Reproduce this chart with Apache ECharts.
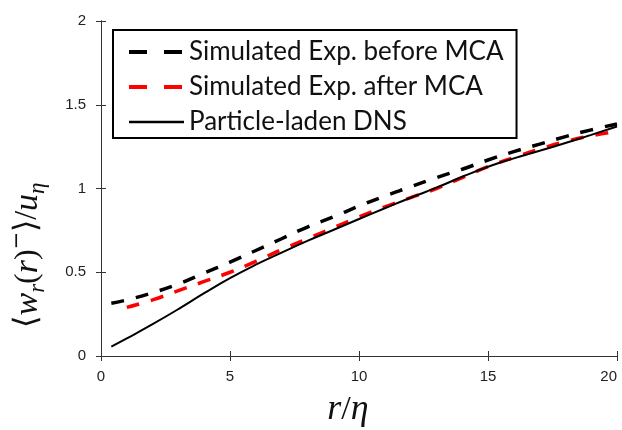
<!DOCTYPE html>
<html><head><meta charset="utf-8">
<script src="https://cdn.jsdelivr.net/npm/echarts@6/dist/echarts.min.js"></script>
<style>html,body{margin:0;padding:0;background:#fff}#c{width:622px;height:430px}</style>
</head><body><div id="c"></div>
<script>
const seriesNames = ['Simulated Exp. before MCA', 'Simulated Exp. after MCA', 'Particle-laden DNS'];
const xBefore = [0.4, 1, 2, 3, 4, 5, 6, 7, 8, 9, 10, 11, 12, 13, 14, 15, 16, 17, 18, 19, 20];
const yBefore = [0.315, 0.335, 0.378, 0.43, 0.495, 0.56, 0.63, 0.70, 0.77, 0.83, 0.895, 0.955, 1.01, 1.065, 1.115, 1.17, 1.22, 1.265, 1.31, 1.35, 1.385];
const xAfter = [1, 2, 3, 4, 5, 6, 7, 8, 9, 10, 11, 12, 13, 14, 15, 16, 17, 18, 19, 20];
const yAfter = [0.29, 0.335, 0.39, 0.445, 0.50, 0.565, 0.635, 0.70, 0.765, 0.83, 0.89, 0.945, 1.0, 1.065, 1.13, 1.185, 1.235, 1.28, 1.315, 1.34];
const xDNS = [0.4, 1, 2, 3, 4, 5, 6, 7, 8, 9, 10, 11, 12, 13, 14, 15, 16, 17, 18, 19, 20];
const yDNS = [0.056, 0.105, 0.19, 0.28, 0.375, 0.465, 0.545, 0.617, 0.687, 0.752, 0.818, 0.882, 0.945, 1.005, 1.07, 1.13, 1.18, 1.225, 1.272, 1.32, 1.37];
const xTicks = [0, 5, 10, 15, 20];
const yTicks = [0, 0.5, 1, 1.5, 2];
const xTitle = '{a|r}{n|/}{a|η}';
const yTitle = '{n|⟨}{a|w}{sub|r}{n|(}{a|r}{n|)}{sup|−}{n|⟩}{n|/}{a|u}{sub|η}';

const zip = (xs, ys) => xs.map((x, i) => [x, ys[i]]);
const chart = echarts.init(document.getElementById('c'), null, {renderer: 'canvas'});
const axisLine = {show: true, lineStyle: {color: '#333', width: 1}};
const tickStyle = {show: true, inside: true, length: 5, lineStyle: {color: '#333'}};
const labelStyle = {fontFamily: 'Liberation Sans', fontSize: 15, color: '#222'};
const mathRich = {
  a: {fontFamily: 'Liberation Serif', fontStyle: 'italic', fontSize: 36, fill: '#111', lineHeight: 44},
  n: {fontFamily: 'Liberation Serif', fontSize: 34, fill: '#111', lineHeight: 44},
  sub: {fontFamily: 'Liberation Serif', fontStyle: 'italic', fontSize: 24, fill: '#111', lineHeight: 26, verticalAlign: 'bottom'},
  sup: {fontFamily: 'DejaVu Sans', fontSize: 22, fill: '#111', lineHeight: 26, verticalAlign: 'top'}
};
const yRich = {
  a: {fontFamily: 'Liberation Serif', fontStyle: 'italic', fontSize: 34, fill: '#111', lineHeight: 42},
  n: {fontFamily: 'Liberation Serif', fontSize: 32, fill: '#111', lineHeight: 42},
  sub: {fontFamily: 'Liberation Serif', fontStyle: 'italic', fontSize: 23, fill: '#111', lineHeight: 25, verticalAlign: 'bottom'},
  sup: {fontFamily: 'DejaVu Sans', fontSize: 21, fill: '#111', lineHeight: 25, verticalAlign: 'top'}
};
const dashLegend = {type: [18, 17], width: 4};
chart.setOption({
  animation: false,
  backgroundColor: '#fff',
  grid: {left: 101, right: 5, top: 21, bottom: 74, outerBoundsMode: 'none', containLabel: false},
  legend: {
    orient: 'vertical', left: 113, top: 30,
    data: [
      {name: seriesNames[0], lineStyle: Object.assign({color: '#000'}, dashLegend)},
      {name: seriesNames[1], lineStyle: Object.assign({color: '#f00'}, dashLegend)},
      {name: seriesNames[2], lineStyle: {color: '#000', width: 2.5, type: 'solid'}}
    ],
    itemStyle: {opacity: 0, color: 'rgba(0,0,0,0)', borderWidth: 0},
    backgroundColor: '#fff', borderColor: '#000', borderWidth: 2,
    padding: [9, 13, 3, 14], itemWidth: 55, itemHeight: 14, itemGap: 9,
    textStyle: {fontFamily: 'Lato', fontSize: 26, lineHeight: 26, color: '#111'}
  },
  xAxis: [{
    type: 'value', min: 0, max: 20, interval: 5,
    axisLine, axisTick: tickStyle, splitLine: {show: false},
    axisLabel: Object.assign({margin: 13, alignMaxLabel: 'right', formatter: v => xTicks.includes(v) ? String(v) : ''}, labelStyle)
  }, {
    type: 'value', position: 'top', min: 0, max: 20, interval: 5,
    axisLine, axisTick: tickStyle, axisLabel: {show: false}, splitLine: {show: false}
  }],
  yAxis: [{
    type: 'value', min: 0, max: 2, interval: 0.5,
    axisLine, axisTick: tickStyle, splitLine: {show: false},
    axisLabel: Object.assign({margin: 15, formatter: v => yTicks.includes(v) ? String(v) : ''}, labelStyle)
  }, {
    type: 'value', position: 'right', min: 0, max: 2, interval: 0.5,
    axisLine, axisTick: tickStyle, axisLabel: {show: false}, splitLine: {show: false}
  }],
  graphic: [
    {type: 'text', x: 348, y: 410, style: {text: xTitle, rich: mathRich, align: 'center', verticalAlign: 'middle'}},
    {type: 'text', x: 28, y: 255, rotation: Math.PI / 2, style: {text: yTitle, rich: yRich, align: 'center', verticalAlign: 'middle'}}
  ],
  series: [
    {name: seriesNames[0], type: 'line', data: zip(xBefore, yBefore), symbol: 'none', smooth: true,
     lineStyle: {color: '#000', width: 3.5, type: [13, 12]}, itemStyle: {color: '#000'}, z: 3},
    {name: seriesNames[1], type: 'line', data: zip(xAfter, yAfter), symbol: 'none', smooth: true,
     lineStyle: {color: '#f00', width: 3.5, type: [13, 12]}, itemStyle: {color: '#f00'}, z: 2},
    {name: seriesNames[2], type: 'line', data: zip(xDNS, yDNS), symbol: 'none', smooth: true,
     lineStyle: {color: '#000', width: 2, type: 'solid'}, itemStyle: {color: '#000'}, z: 4}
  ]
});
</script></body></html>
